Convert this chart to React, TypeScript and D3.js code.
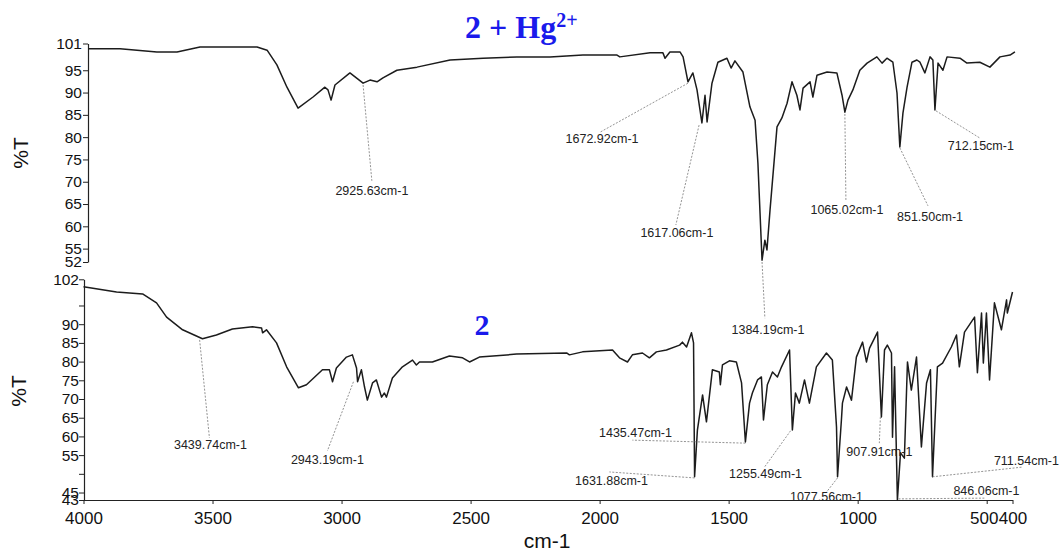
import React, { useEffect, useRef } from 'react';
import * as d3 from 'd3';

type Pt = [number, number];

// [wavenumber cm-1, %T]
const hgSpectrum: Pt[] = [
  [4000, 99.8], [3876, 99.8], [3733, 99.1], [3655, 99.1], [3566, 100.2], [3345, 100.2],
  [3306, 99.5], [3268, 96.2], [3229, 91.2], [3186, 86.5], [3128, 89.0], [3082, 91.2],
  [3070, 90.6], [3058, 88.3], [3043, 91.7], [2985, 94.4], [2934, 92.1], [2907, 92.8],
  [2880, 92.4], [2857, 93.3], [2803, 95.0], [2725, 95.7], [2597, 97.3], [2469, 97.7],
  [2338, 98.0], [2210, 98.0], [2082, 98.4], [1950, 98.4], [1939, 98.0], [1822, 98.9],
  [1772, 98.9], [1764, 97.7], [1745, 99.1], [1706, 99.1], [1694, 98.0], [1675, 92.4],
  [1656, 94.4], [1640, 90.6], [1621, 83.2], [1609, 89.4], [1601, 83.4], [1582, 92.1],
  [1559, 96.8], [1524, 97.7], [1508, 95.5], [1493, 97.1], [1462, 94.6], [1435, 86.8],
  [1415, 83.8], [1404, 74.2], [1388, 52.4], [1377, 56.9], [1369, 54.7], [1357, 63.7],
  [1330, 82.3], [1311, 84.3], [1291, 87.6], [1272, 92.4], [1253, 89.4], [1241, 86.1],
  [1229, 91.0], [1202, 92.4], [1191, 89.0], [1175, 93.9], [1136, 94.6], [1098, 94.4],
  [1078, 89.4], [1067, 85.6], [1055, 88.3], [1036, 90.6], [1009, 95.0], [981, 96.6],
  [943, 98.0], [923, 96.6], [904, 97.7], [881, 96.8], [865, 89.9], [854, 77.8],
  [842, 85.4], [826, 91.2], [807, 96.8], [788, 97.3], [776, 96.8], [757, 94.4],
  [737, 98.0], [726, 97.3], [718, 86.1], [706, 96.6], [687, 95.0], [671, 98.0],
  [621, 97.7], [594, 96.6], [544, 96.8], [505, 95.7], [466, 98.0], [427, 98.4], [408, 99.1],
];

const ligandSpectrum: Pt[] = [
  [4000, 100.0], [3872, 98.6], [3771, 98.1], [3717, 95.7], [3678, 91.9], [3616, 88.5],
  [3539, 86.1], [3485, 87.1], [3423, 88.7], [3345, 89.3], [3310, 89.0], [3306, 87.7],
  [3291, 88.5], [3252, 85.0], [3213, 78.6], [3167, 73.0], [3136, 73.8], [3074, 77.8],
  [3047, 77.8], [3035, 74.6], [3020, 78.3], [2981, 81.2], [2958, 81.8], [2942, 78.3],
  [2938, 74.6], [2923, 77.8], [2911, 73.2], [2900, 69.7], [2880, 74.3], [2865, 75.1],
  [2845, 70.5], [2834, 71.6], [2826, 70.5], [2803, 75.6], [2764, 78.6], [2725, 80.4],
  [2710, 79.1], [2698, 79.9], [2648, 79.9], [2582, 81.5], [2531, 81.0], [2504, 79.9],
  [2466, 81.2], [2322, 82.0], [2128, 82.3], [2117, 81.8], [2066, 82.6], [1950, 83.1],
  [1923, 81.0], [1892, 79.9], [1873, 81.8], [1834, 82.3], [1807, 81.0], [1780, 82.6],
  [1741, 83.1], [1690, 84.4], [1679, 85.2], [1663, 83.9], [1644, 87.7], [1636, 85.0],
  [1632, 49.2], [1621, 61.7], [1601, 71.1], [1586, 63.9], [1563, 77.8], [1536, 77.2],
  [1532, 73.8], [1524, 79.1], [1497, 80.2], [1470, 79.9], [1450, 74.3], [1435, 58.5],
  [1419, 68.9], [1408, 71.6], [1388, 75.1], [1373, 75.9], [1365, 64.4], [1350, 73.8],
  [1330, 77.2], [1311, 75.9], [1295, 78.6], [1264, 83.1], [1253, 61.7], [1241, 71.6],
  [1226, 68.9], [1206, 75.1], [1187, 68.9], [1160, 78.6], [1121, 82.3], [1098, 80.4],
  [1082, 62.5], [1078, 49.2], [1063, 64.4], [1059, 68.9], [1043, 73.2], [1024, 69.7],
  [1005, 81.2], [981, 85.2], [966, 79.9], [954, 83.6], [923, 87.9], [908, 65.2],
  [896, 83.1], [885, 84.4], [869, 82.3], [865, 59.8], [857, 78.6], [846, 43.0],
  [834, 55.6], [819, 54.2], [807, 79.9], [792, 72.4], [772, 81.2], [753, 57.2],
  [733, 74.3], [718, 77.8], [710, 49.2], [691, 78.6], [671, 79.6], [637, 83.9],
  [617, 87.1], [606, 78.6], [586, 87.9], [547, 91.9], [536, 77.0], [520, 93.0],
  [513, 79.6], [501, 93.0], [489, 75.1], [470, 95.7], [443, 88.5], [423, 96.5],
  [420, 93.0], [400, 98.6],
];

const xTicks = [4000, 3500, 3000, 2500, 2000, 1500, 1000, 500, 400];
const topTicks = [101, 95, 90, 85, 80, 75, 70, 65, 60, 55, 52];
const bottomTicks = [102, 95, 90, 85, 80, 75, 70, 65, 60, 55, 50, 45, 43];
const bottomUnlabeled = [95, 50];

// peak point, end of leader line, label centre (all in data units)
interface Note { text: string; peak: Pt; end: Pt; label: Pt; }

const hgNotes: Note[] = [
  { text: '2925.63cm-1', peak: [2934, 91.7], end: [2900, 70.2], label: [2900, 67.9] },
  { text: '1672.92cm-1', peak: [1675, 92.1], end: [2016, 81.1], label: [2008, 79.6] },
  { text: '1617.06cm-1', peak: [1632, 82.7], end: [1722, 60.3], label: [1718, 58.5] },
  { text: '1384.19cm-1', peak: [1388, 52.0], end: [1377, 39.4], label: [1365, 36.8] },
  { text: '1065.02cm-1', peak: [1067, 85.2], end: [1063, 65.7], label: [1059, 63.7] },
  { text: '851.50cm-1', peak: [854, 77.6], end: [745, 64.6], label: [737, 62.1] },
  { text: '712.15cm-1', peak: [714, 85.9], end: [544, 79.8], label: [540, 78.2] },
];

const ligandNotes: Note[] = [
  { text: '3439.74cm-1', peak: [3550, 85.8], end: [3512, 59.6], label: [3508, 57.7] },
  { text: '2943.19cm-1', peak: [2954, 74.6], end: [3055, 56.1], label: [3055, 53.7] },
  { text: '1435.47cm-1', peak: [1435, 58.2], end: [1873, 59.0], label: [1861, 60.9] },
  { text: '1631.88cm-1', peak: [1632, 48.9], end: [1962, 50.5], label: [1954, 48.3] },
  { text: '1255.49cm-1', peak: [1260, 61.5], end: [1361, 51.8], label: [1357, 50.0] },
  { text: '1077.56cm-1', peak: [1078, 48.9], end: [1121, 45.1], label: [1121, 43.8] },
  { text: '907.91cm-1', peak: [912, 65.2], end: [916, 58.2], label: [916, 55.8] },
  { text: '711.54cm-1', peak: [710, 49.2], end: [361, 51.8], label: [346, 53.4] },
  { text: '846.06cm-1', peak: [842, 43.3], end: [509, 43.5], label: [501, 45.4] },
];

const FONT = '"Liberation Sans", Arial, Helvetica, sans-serif';
const SERIF = '"Liberation Serif", "Times New Roman", serif';
const BLUE = '#1a1aeb';

export default function App() {
  const svgRef = useRef<SVGSVGElement>(null);

  useEffect(() => {
    if (!svgRef.current) return;
    document.body.style.margin = '0';

    const svg = d3.select(svgRef.current);
    svg.selectAll('*').remove();

    const xTop = d3.scaleLinear().domain([4000, 400]).range([88, 1017]);
    const yTop = d3.scaleLinear().domain([52, 101]).range([262, 43.5]);
    const xBot = d3.scaleLinear().domain([4000, 400]).range([83.5, 1012.5]);
    const yBot = d3.scaleLinear().domain([43, 102]).range([500, 279.3]);

    const styleAxis = (g: any, size: number) => {
      g.attr('font-size', size).attr('font-family', FONT);
      g.select('.domain').attr('stroke', '#222').attr('stroke-width', 1.2);
      g.selectAll('.tick line').attr('stroke', '#222');
      g.selectAll('.tick text').attr('fill', '#111');
    };

    // y axes
    const gTop = svg.append('g')
      .attr('transform', 'translate(88,0)')
      .call(d3.axisLeft(yTop).tickValues(topTicks).tickSize(5).tickSizeOuter(0).tickPadding(1)
        .tickFormat(d3.format('d') as any));
    styleAxis(gTop, 15.5);

    const gBot = svg.append('g')
      .attr('transform', 'translate(84,0)')
      .call(d3.axisLeft(yBot).tickValues(bottomTicks).tickSize(5).tickSizeOuter(0).tickPadding(0)
        .tickFormat(((d: number) => bottomUnlabeled.includes(d) ? '' : String(d)) as any));
    styleAxis(gBot, 15.5);

    // x axis
    const gX = svg.append('g')
      .attr('transform', 'translate(0,500)')
      .call(d3.axisBottom(xBot).tickValues(xTicks).tickSize(4).tickSizeOuter(0).tickPadding(8)
        .tickFormat(d3.format('d') as any));
    styleAxis(gX, 17);
    gX.selectAll('.tick text').filter((d: any) => d === 500).attr('dx', -3);

    // spectra
    const lineTop = d3.line<Pt>().x(d => xTop(d[0])).y(d => yTop(d[1]));
    const lineBot = d3.line<Pt>().x(d => xBot(d[0])).y(d => yBot(d[1]));

    svg.append('path').datum(hgSpectrum)
      .attr('d', lineTop).attr('fill', 'none').attr('stroke', '#1c1c1c')
      .attr('stroke-width', 1.5).attr('stroke-linejoin', 'round');

    svg.append('path').datum(ligandSpectrum)
      .attr('d', lineBot).attr('fill', 'none').attr('stroke', '#1c1c1c')
      .attr('stroke-width', 1.5).attr('stroke-linejoin', 'round');

    // peak labels
    const drawNotes = (notes: Note[], x: any, y: any) => {
      const g = svg.append('g');
      notes.forEach(n => {
        g.append('line')
          .attr('x1', x(n.peak[0])).attr('y1', y(n.peak[1]))
          .attr('x2', x(n.end[0])).attr('y2', y(n.end[1]))
          .attr('stroke', '#777').attr('stroke-width', 0.8)
          .attr('stroke-dasharray', '2,1.5');
        g.append('text')
          .attr('x', x(n.label[0])).attr('y', y(n.label[1]))
          .attr('dy', '0.35em')
          .attr('text-anchor', 'middle')
          .attr('font-family', FONT).attr('font-size', 12.5)
          .attr('fill', '#222')
          .text(n.text);
      });
    };
    drawNotes(hgNotes, xTop, yTop);
    drawNotes(ligandNotes, xBot, yBot);

    // titles
    const t1 = svg.append('text')
      .attr('x', 465).attr('y', 38)
      .attr('font-family', SERIF).attr('font-weight', 'bold')
      .attr('font-size', 32).attr('fill', BLUE);
    t1.append('tspan').text('2 + Hg');
    t1.append('tspan').attr('font-size', 20).attr('dy', -11).text('2+');

    svg.append('text')
      .attr('x', 482).attr('y', 335)
      .attr('text-anchor', 'middle')
      .attr('font-family', SERIF).attr('font-weight', 'bold')
      .attr('font-size', 30).attr('fill', BLUE)
      .text('2');

    // axis titles
    [[21, 153], [19, 391]].forEach(([cx, cy]) => {
      svg.append('text')
        .attr('transform', `translate(${cx},${cy}) rotate(-90)`)
        .attr('text-anchor', 'middle').attr('dy', '0.35em')
        .attr('font-family', FONT).attr('font-size', 21).attr('fill', '#111')
        .text('%T');
    });

    svg.append('text')
      .attr('x', 547).attr('y', 548)
      .attr('text-anchor', 'middle')
      .attr('font-family', FONT).attr('font-size', 21).attr('fill', '#111')
      .text('cm-1');
  }, []);

  return (
    <div style={{ width: 1064, height: 551, background: '#fff' }}>
      <svg ref={svgRef} width={1064} height={551} style={{ display: 'block' }} />
    </div>
  );
}
